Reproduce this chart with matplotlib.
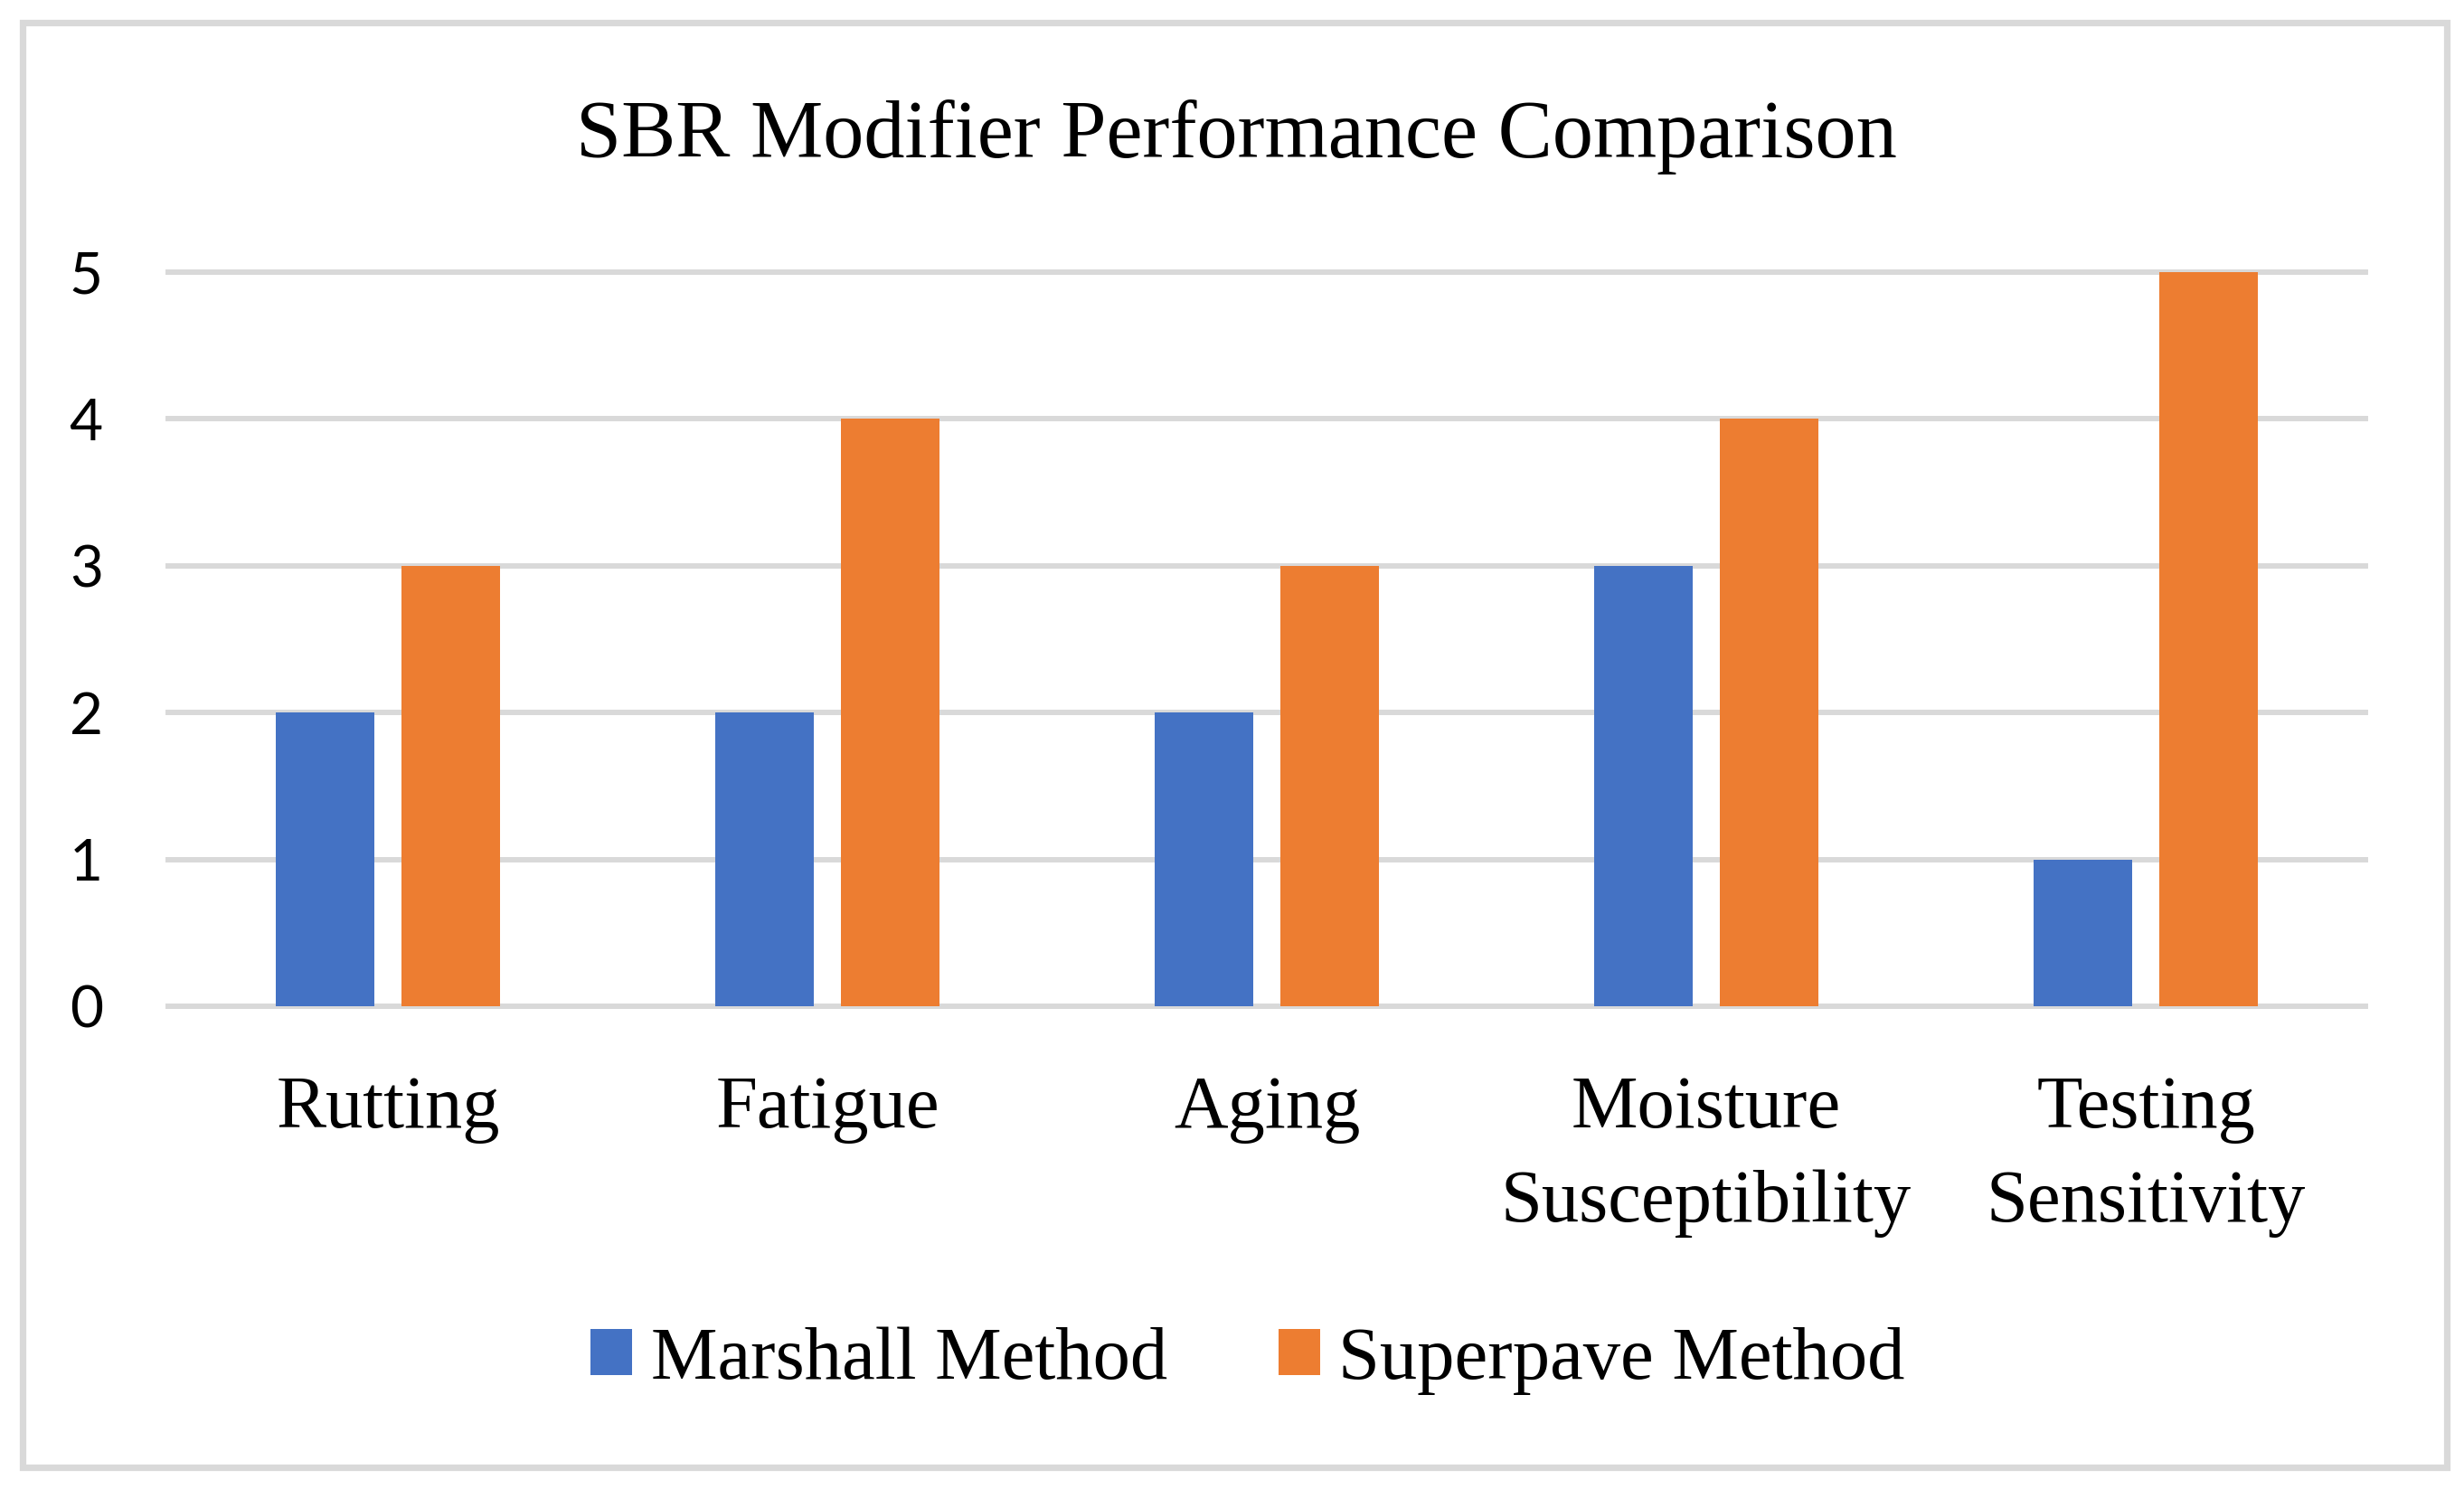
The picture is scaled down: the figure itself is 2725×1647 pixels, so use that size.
import numpy as np
import matplotlib.pyplot as plt
from matplotlib.patches import Rectangle

categories = ['Rutting', 'Fatigue', 'Aging', 'Moisture\nSusceptibility', 'Testing\nSensitivity']
marshall = [2, 2, 2, 3, 1]
superpave = [3, 4, 3, 4, 5]
series_names = ['Marshall Method', 'Superpave Method']
y_ticks = [0, 1, 2, 3, 4, 5]

W, H = 2725, 1647
fig = plt.figure(figsize=(W / 100, H / 100), dpi=100)
fig.patch.set_facecolor('white')

# outer chart border
fig.patches.append(Rectangle((25 / W, 24 / H), (2706 - 25) / W, (1622 - 24) / H,
                             transform=fig.transFigure, fill=False,
                             edgecolor='#D9D9D9', linewidth=5.2))

ax = fig.add_axes([186 / W, (H - 1113) / H, (2616 - 186) / W, (1113 - 301) / H])

x = np.arange(len(categories))
bw = 0.226
off = 0.143
b1 = ax.bar(x - off, marshall, bw, color='#4472C4', label=series_names[0], zorder=3)
b2 = ax.bar(x + off, superpave, bw, color='#ED7D31', label=series_names[1], zorder=3)

ax.set_xlim(-0.5, len(categories) - 0.5)
ax.set_ylim(0, 5)
ax.set_yticks(y_ticks)
ax.set_yticklabels([str(v) for v in y_ticks], fontfamily='Lato', fontsize=46)
ax.set_xticks(x)
ax.set_xticklabels(categories, fontfamily='Liberation Serif', fontsize=59.5,
                   linespacing=1.49)
ax.tick_params(axis='both', length=0)
ax.tick_params(axis='y', pad=52)
ax.tick_params(axis='x', pad=55)
for s in ax.spines.values():
    s.set_visible(False)

ax.yaxis.grid(True, color='#D9D9D9', linewidth=4.3, zorder=0)
for gl in ax.get_ygridlines():
    gl.set_clip_on(False)
ax.set_axisbelow(True)

fig.text(1367 / W, (H - 174) / H, 'SBR Modifier Performance Comparison',
         ha='center', va='baseline', fontfamily='Liberation Serif', fontsize=65)

leg = fig.legend(handles=[b1, b2], loc='center', bbox_to_anchor=(1380 / W, (H - 1505) / H),
                 ncol=2, frameon=False, handlelength=0.56, handleheight=0.575,
                 handletextpad=0.245, columnspacing=1.49,
                 prop={'family': 'Liberation Serif', 'size': 59.5})

fig.savefig('out.png', dpi=100)
